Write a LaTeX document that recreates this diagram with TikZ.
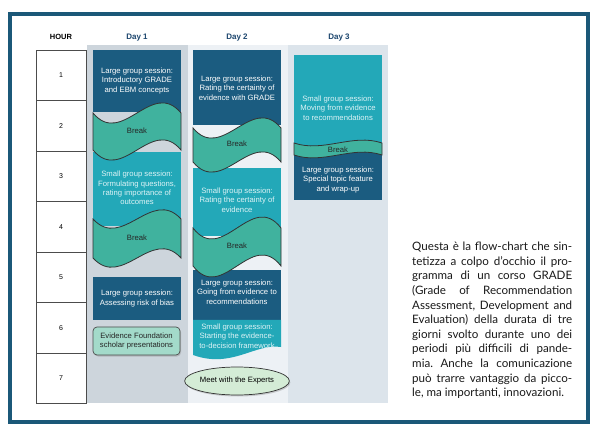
\documentclass[tikz,border=0pt]{standalone}
\usepackage{fontspec}
\setmainfont{Liberation Sans}
\newfontfamily\notefont{Lato}
\usetikzlibrary{shapes.geometric,shadows}

\definecolor{framecol}{RGB}{27,88,120}
\definecolor{largecol}{RGB}{27,92,128}
\definecolor{smallcol}{RGB}{35,168,184}
\definecolor{smalltext}{RGB}{222,243,246}
\definecolor{breakcol}{RGB}{64,178,158}
\definecolor{bgone}{RGB}{205,213,220}
\definecolor{bgtwo}{RGB}{237,241,245}
\definecolor{bgthree}{RGB}{220,228,235}
\definecolor{daycol}{RGB}{28,70,110}
\definecolor{scholarcol}{RGB}{163,218,202}
\definecolor{meetcol}{RGB}{212,236,214}

\tikzset{
  largebox/.style={fill=largecol},
  smallbox/.style={fill=smallcol},
  breakline/.style={fill=breakcol, draw=black!80, line width=0.8pt},
  sessiontext/.style={align=center, inner sep=0pt, font=\fontsize{7.7}{9.3}\selectfont},
  largetext/.style={sessiontext, text=white},
  smalltextnode/.style={sessiontext, text=smalltext},
  breaktext/.style={sessiontext, text=black!85},
  daylabel/.style={font=\fontsize{8}{9}\selectfont\bfseries, text=daycol},
  hourcell/.style={draw=black!70, fill=white, minimum width=50pt, minimum height=50.5pt,
    inner sep=0pt, font=\fontsize{7}{8}\selectfont},
  softshadow/.style={drop shadow={opacity=0.35, shadow xshift=1pt, shadow yshift=-1.5pt}}
}

% #1 left, #2 right, #3 top, #4 bottom, #5 wave depth
\newcommand{\breakband}[5]{%
  \filldraw[breakline] (#1,#3)
    .. controls ({#1+(#2-#1)/3},{#3+#5}) and ({#1+2*(#2-#1)/3},{#3-#5}) .. (#2,#3)
    -- (#2,#4)
    .. controls ({#1+2*(#2-#1)/3},{#4-#5}) and ({#1+(#2-#1)/3},{#4+#5}) .. (#1,#4)
    -- cycle;}

\begin{document}
\begin{tikzpicture}[x=1pt, y=-1pt]
  \fill[white] (0,0) rectangle (610,435);
  \useasboundingbox (0,0) rectangle (610,435);
  \draw[framecol, line width=4pt] (10,14) rectangle (588,422);

  \fill[bgone] (87,45) rectangle (188,403);
  \fill[bgtwo] (188,45) rectangle (288,403);
  \fill[bgthree] (288,45) rectangle (388,403);

  \node[font=\fontsize{7.5}{9}\selectfont\bfseries] (hourhead) at (61,37) {HOUR};
  \node[daylabel] (dayone) at (137,38) {Day 1};
  \node[daylabel] (daytwo) at (237,38) {Day 2};
  \node[daylabel] (daythree) at (339,38) {Day 3};

  \foreach \h in {1,...,7}
    \node[hourcell] (hour\h) at (61,{50+50.5*(\h-0.5)}) {\h};

  % day 1
  \fill[largebox] (93,50) rectangle (181,112);
  \fill[smallbox] (93,152) rectangle (181,226);
  \fill[largebox] (93,277) rectangle (181,320);
  \breakband{93}{181}{113}{150}{35}
  \breakband{93}{181}{219}{258}{32}
  \node[largetext] (intrograde) at (137,81) {Large group session:\\Introductory GRADE\\and EBM concepts};
  \node[breaktext] (breakonea) at (137,131) {Break};
  \node[smalltextnode] (questions) at (137,188) {Small group session:\\Formulating questions,\\rating importance of\\outcomes};
  \node[breaktext] (breakoneb) at (137,238) {Break};
  \node[largetext] (riskbias) at (137,298.5) {Large group session:\\Assessing risk of bias};
  \node[sessiontext, draw=black!70, line width=0.7pt, fill=scholarcol, rounded corners=4pt,
    minimum width=87pt, minimum height=28pt, text=black!85, softshadow] (scholar) at (136.5,341)
    {Evidence Foundation\\scholar presentations};

  % day 2
  \fill[largebox] (193,50) rectangle (281,125);
  \fill[smallbox] (193,168) rectangle (281,236);
  \fill[largebox] (193,270) rectangle (281,320);
  \fill[smallbox] (193,320) -- (281,320) -- (281,347)
    .. controls (255,343) and (232,369) .. (193,355) -- cycle;
  \breakband{193}{281}{128}{162}{35}
  \breakband{193}{281}{228}{266}{38}
  \node[largetext] (certgrade) at (237,88) {Large group session:\\Rating the certainty of\\evidence with GRADE};
  \node[breaktext] (breaktwoa) at (237,144) {Break};
  \node[smalltextnode] (certevid) at (237,200) {Small group session:\\Rating the certainty of\\evidence};
  \node[breaktext] (breaktwob) at (237,246) {Break};
  \node[largetext] (goingrec) at (237,292) {Large group session:\\Going from evidence to\\recommendations};
  \node[smalltextnode] (etdframe) at (237,336) {Small group session:\\Starting the evidence-\\to-decision framework};
  \node[ellipse, draw=black!80, line width=0.7pt, fill=meetcol, minimum width=89pt,
    minimum height=28pt, inner sep=0pt, font=\fontsize{7.7}{9.3}\selectfont, softshadow] (meet) at (237,381)
    {Meet with the Experts};

  % day 3
  \fill[smallbox] (294,55) rectangle (382,148);
  \fill[largebox] (294,150) rectangle (382,200);
  \breakband{294}{382}{143}{155}{10}
  \node[smalltextnode] (movingrec) at (338,108) {Small group session:\\Moving from evidence\\to recommendations};
  \node[breaktext] (breakthree) at (338,150) {Break};
  \node[largetext] (wrapup) at (338,180) {Large group session:\\Special topic feature\\and wrap-up};

  \node[anchor=north west, inner sep=0pt, text width=160pt, align=justify, text=black!90,
    font=\notefont\fontsize{11.6}{14.6}\selectfont] (note) at (412,242)
    {\frenchspacing\hyphenpenalty10000\exhyphenpenalty10000
     Questa è la flow-chart che sin-\linebreak
     tetizza a colpo d’occhio il pro-\linebreak
     gramma di un corso GRADE\linebreak
     (Grade of Recommendation\linebreak
     Assessment, Development and\linebreak
     Evaluation) della durata di tre\linebreak
     giorni svolto durante uno dei\linebreak
     periodi più difficili di pande-\linebreak
     mia. Anche la comunicazione\linebreak
     può trarre vantaggio da picco-\linebreak
     le, ma importanti, innovazioni.};
\end{tikzpicture}
\end{document}
